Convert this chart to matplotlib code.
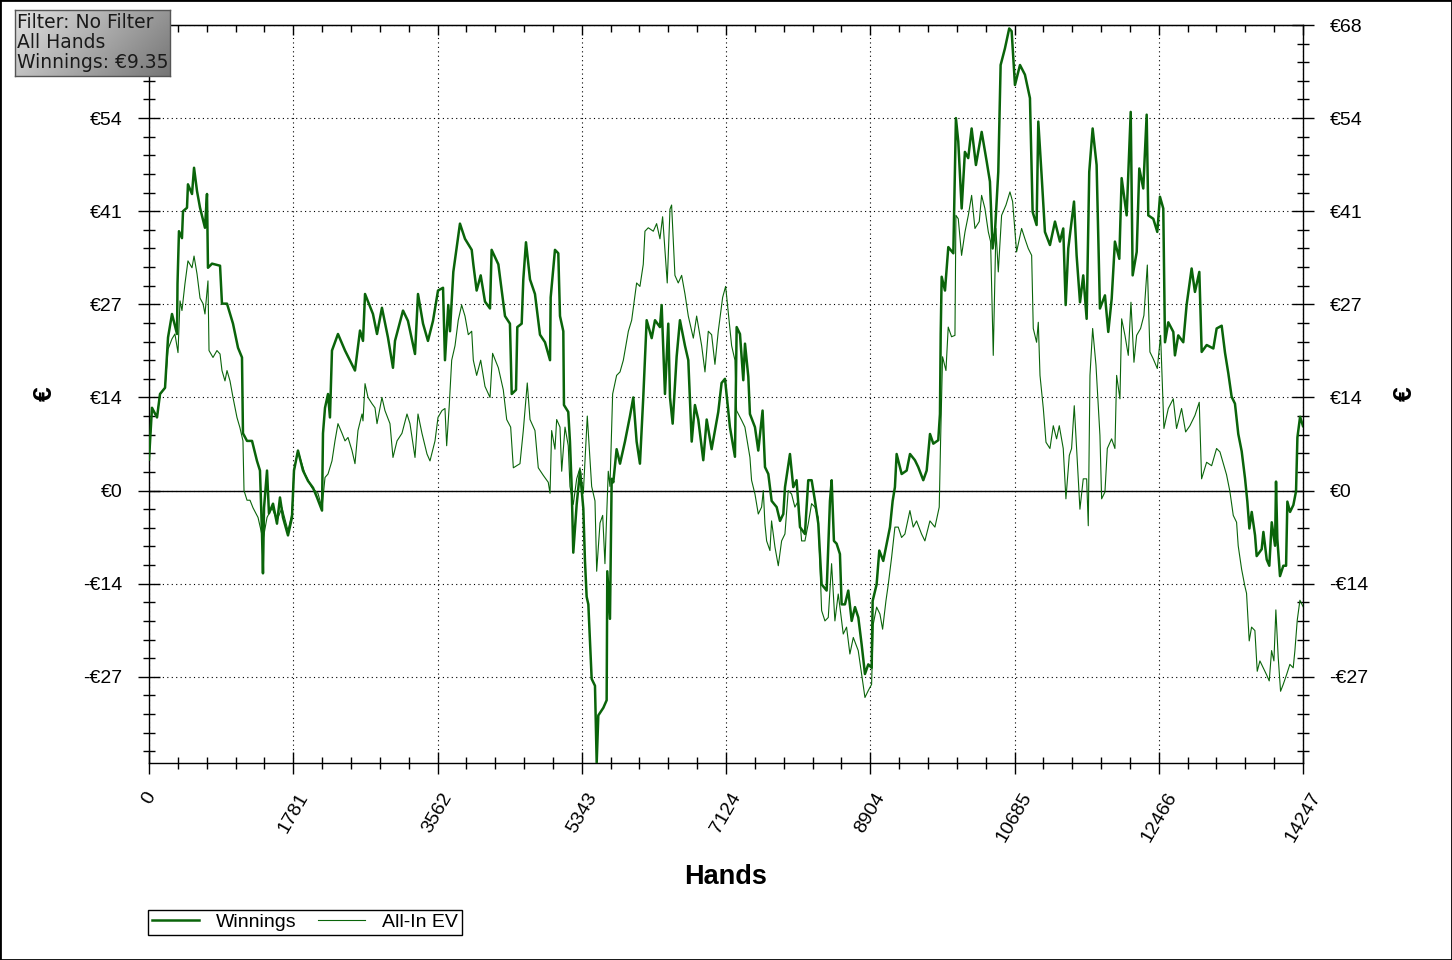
import numpy as np
import matplotlib
matplotlib.use("Agg")
import matplotlib.pyplot as plt
from matplotlib.ticker import MultipleLocator, FixedLocator
from matplotlib.patches import Rectangle
from matplotlib.lines import Line2D

plt.rcParams['font.family'] = ['Liberation Sans', 'DejaVu Sans']

# ---- data ----
n_hands = 14247
x_tick_labels = ['0', '1781', '3562', '5343', '7124', '8904', '10685', '12466', '14247']
y_tick_values = [-27, -13.5, 0, 13.5, 27, 40.5, 54, 67.5]
y_tick_labels = ['-€27', '-€14', '€0', '€14', '€27', '€41', '€54', '€68']
info_lines = ['Filter: No Filter', 'All Hands', 'Winnings: €9.35']

win_hands = [0, 37, 99, 136, 198, 235, 284, 346, 352, 370, 407, 420, 469, 481, 531, 556, 593, 630, 691, 716,
             728, 778, 877, 901, 963, 1037, 1099, 1148, 1160, 1210, 1272, 1333, 1370, 1395, 1407, 1420, 1457,
             1481, 1531, 1580, 1617, 1654, 1716, 1765, 1790, 1839, 1901, 1963, 2025, 2074, 2136, 2148, 2173,
             2210, 2234, 2259, 2333, 2420, 2543, 2605, 2642, 2667, 2765, 2815, 2876, 2950, 3012, 3037, 3136,
             3197, 3284, 3321, 3383, 3444, 3506, 3568, 3630,
             3654, 3695, 3716, 3757, 3839, 3901, 3984, 4004, 4045, 4095, 4148, 4210, 4230, 4313, 4395, 4456,
             4478, 4531, 4547, 4601, 4621, 4654, 4704, 4765, 4827, 4889, 4951, 4959, 5012, 5053, 5074, 5115,
             5123, 5176, 5197, 5218, 5238, 5280, 5321, 5362, 5382, 5403, 5424, 5465, 5506, 5527, 5547, 5609,
             5650, 5658, 5691, 5712, 5732, 5773, 5815, 5876, 5938, 5979, 6020, 6061, 6102, 6144, 6206, 6247,
             6308, 6329, 6370, 6411, 6432, 6465, 6514, 6555, 6617, 6658, 6700, 6740, 6781, 6843, 6885, 6946,
             6987, 7028, 7069, 7111, 7172, 7234, 7255, 7296,
             7337, 7358, 7399, 7419, 7481, 7522, 7575, 7605, 7646, 7687, 7749, 7790, 7831, 7852, 7913, 7954,
             7995, 8037, 8098, 8139, 8181, 8222, 8263, 8304, 8366, 8407, 8428, 8456, 8489, 8530, 8551, 8592,
             8633, 8675, 8716, 8757, 8798, 8839, 8880, 8922, 8934, 8983, 9016, 9065, 9107, 9148, 9181, 9209,
             9230, 9292, 9354, 9395, 9456, 9497, 9559, 9601, 9642, 9683, 9744, 9765, 9774, 9786, 9827, 9868,
             9930,
             9962, 9991, 10033, 10073, 10114, 10156, 10209, 10280, 10342, 10382, 10415, 10444, 10485, 10514,
             10567, 10620, 10650, 10691, 10753, 10814, 10876, 10909, 10958, 10979, 11020, 11061, 11123, 11185,
             11246, 11287, 11317, 11349, 11420, 11452, 11494, 11534, 11576, 11608, 11650, 11699, 11740, 11802,
             11843, 11885, 11925, 11979, 12008, 12070, 12120, 12144, 12194, 12226, 12275, 12317, 12337, 12399,
             12448, 12481, 12522, 12543, 12584, 12646, 12666, 12707, 12769, 12810, 12872, 12913, 12967, 12996,
             13058, 13140, 13181,
             13243, 13284, 13325, 13366, 13407, 13448, 13490, 13531, 13560, 13585, 13614, 13655, 13675, 13737,
             13758, 13799, 13831, 13861, 13902, 13914, 13930, 13963, 14004, 14038, 14054, 14087, 14128, 14161,
             14178, 14211, 14247]
win_eur = [4.5, 12.0, 10.6, 14.0, 14.9, 22.2, 25.6, 22.7, 30.0, 37.6, 36.6, 40.5, 41.0, 44.4, 43.0, 46.8, 43.4,
           41.0, 38.1, 43.0, 32.3, 32.9, 32.6, 27.1, 27.1, 24.2, 20.7, 19.3, 8.3, 7.2, 7.2, 4.3, 2.9, -6.2, -12.0,
           -2.5, 2.9, -3.3, -1.9, -4.8, -1.0, -3.9, -6.5, -3.9, 2.9, 5.8, 2.9, 1.4, 0.4, -1.0, -2.9, 8.3, 12.0,
           14.0, 10.6, 20.3, 22.7, 20.3, 17.4, 23.2, 21.7, 28.5, 25.6, 22.7, 26.5, 22.2, 17.8, 21.7, 26.1,
           24.6, 19.8, 28.5, 24.2, 21.7, 24.6, 29.0, 29.4,
           18.9, 26.9, 23.1, 31.7, 38.7, 36.5, 34.9, 32.8, 29.0, 31.2, 27.4, 26.4, 34.9, 32.8, 25.3, 24.2,
           14.0, 14.6, 23.7, 24.2, 30.6, 36.0, 30.6, 28.5, 22.6, 21.5, 18.9, 28.0, 34.9, 34.4, 25.3, 23.1,
           12.4, 11.4, 7.1, 0.6, -9.0, -2.0, 2.8, -2.6, -10.1, -15.4, -16.5, -27.3, -28.3, -39.5, -32.6, -31.5,
           -30.4, -11.7, -18.6, 1.7, 1.2, 6.0, 3.9, 7.1, 10.8, 13.5, 7.1, 3.9, 13.5, 24.7, 22.1, 24.7,
           23.7, 26.9, 14.0, 24.2, 13.5, 9.7, 19.4, 24.7, 21.0, 18.9, 7.1, 12.4, 10.3, 4.4, 10.3, 6.0,
           8.7, 11.4, 15.6, 16.2, 9.2, 4.9, 23.7, 22.7,
           16.0, 21.3, 16.5, 11.1, 9.2, 5.8, 11.6, 3.4, 2.4, -1.5, -2.4, -4.4, -3.4, 0.5, 5.3, 0.5,
           1.5, -5.3, -6.3, 1.5, 1.5, -1.5, -4.8, -13.6, -14.5, -1.5, 1.5, -7.3, -7.7, -9.2, -16.5, -16.5,
           -14.5, -18.9, -16.9, -18.4, -22.3, -26.6, -25.2, -25.7, -16.0, -13.6, -8.7, -10.2, -7.7, -5.3, -1.5, 0.5,
           5.3, 2.4, 2.9, 5.3, 4.4, 3.4, 1.5, 2.9, 8.2, 6.8, 7.3, 11.1, 22.7, 31.0, 29.0, 35.3,
           34.4,
           54.0, 50.6, 40.9, 49.1, 48.2, 52.5, 47.2, 52.0, 47.7, 44.8, 35.1, 37.5, 46.2, 61.7,
           64.1, 67.0, 66.6, 58.8, 61.7, 60.3, 56.9, 40.4, 38.5, 53.5, 45.7, 37.5, 35.6, 39.0,
           36.1, 38.0, 26.9, 35.1, 41.9, 34.1, 27.3, 31.2, 24.9, 46.2, 52.5, 47.2, 26.4, 28.3,
           23.0, 27.8, 36.1, 33.6, 45.3, 39.9, 54.9, 31.2, 34.6, 46.7, 43.8, 54.5, 39.9, 39.4,
           37.5, 42.6, 40.9, 21.5, 24.4, 23.0, 19.6, 22.5, 21.5, 26.9, 32.2, 28.8, 31.7, 20.1,
           21.1, 20.6, 23.5,
           23.9, 20.0, 17.0, 13.6, 12.6, 8.2, 5.7, 1.8, -1.6, -5.5, -3.1, -6.5, -9.5, -8.5,
           -6.0, -10.0, -10.9, -4.6, -8.0, 1.3, -7.0, -12.4, -10.9, -10.9, -1.6, -3.1, -2.1, -0.1,
           7.7, 10.7, 9.35]

ev_hands = [0, 37, 99, 136, 198, 235, 284, 320, 358, 383, 407, 444, 481, 531, 556, 593, 630, 667, 691, 728,
            741, 790, 839, 877, 901, 938, 963, 1000, 1037, 1086, 1123, 1160, 1173, 1210, 1247, 1284, 1346,
            1383, 1407, 1457, 1518, 1580, 1642, 1716, 1765, 1790, 1839, 1926, 2012, 2086, 2136, 2173, 2210,
            2259, 2296, 2333, 2383, 2420, 2457, 2506, 2543, 2580, 2630, 2642, 2667, 2704, 2753, 2790, 2815,
            2876, 2913, 2975, 3012, 3062, 3123, 3185, 3222, 3284, 3321, 3370, 3432, 3469, 3531, 3568, 3617,
            3654, 3675, 3707, 3737, 3778, 3818, 3860, 3901, 3942, 3984, 4004, 4045, 4095, 4148, 4210, 4242,
            4313, 4374, 4416, 4465, 4498, 4580, 4621, 4670, 4704, 4765, 4806, 4868, 4929, 4951, 4971, 5012,
            5033, 5074, 5095, 5136, 5176, 5197, 5238, 5280, 5321, 5362, 5411, 5465, 5506, 5527, 5568, 5601,
            5629, 5670, 5691, 5724, 5773, 5815, 5856, 5918, 5959, 6020, 6061, 6102, 6123, 6164, 6226, 6267,
            6308, 6341, 6398, 6432, 6452, 6493, 6534, 6576, 6617, 6658, 6720, 6761, 6823, 6864, 6905, 6946,
            6987, 7028, 7082, 7119, 7152, 7193, 7234,
            7254, 7316, 7357, 7419, 7439, 7481, 7522, 7563, 7584, 7604, 7625, 7666, 7686, 7728, 7769, 7810,
            7851, 7892, 7933, 7974, 8016, 8057, 8098, 8139, 8180, 8221, 8262, 8304, 8345, 8386, 8427, 8468,
            8509, 8530, 8571, 8612, 8653, 8695, 8756, 8797, 8839, 8880, 8921, 8941, 8983, 9024, 9057, 9098,
            9127, 9168, 9209, 9250, 9291, 9332, 9394, 9435, 9476, 9538, 9579, 9641, 9703, 9756, 9773, 9797,
            9839, 9867, 9908,
            9950, 9962, 9991, 10032, 10074, 10115, 10156, 10197, 10250, 10279, 10320, 10362, 10390, 10423,
            10456, 10485, 10526, 10580, 10629, 10662, 10711, 10773, 10814, 10855, 10897, 10917, 10958, 10979,
            11000, 11041, 11074, 11123, 11164, 11205, 11238, 11287, 11320, 11362, 11390, 11423, 11452, 11493,
            11534, 11576, 11596, 11617, 11650, 11691, 11740, 11761, 11802, 11831, 11884, 11925, 11946, 11987,
            12008, 12049, 12090, 12123, 12160, 12193, 12242, 12283, 12325, 12357, 12398, 12448, 12489, 12530,
            12584, 12645, 12686, 12748, 12798, 12851, 12913, 12966, 12995, 13057, 13119, 13180, 13222,
            13303, 13344, 13386, 13427, 13447, 13489, 13530, 13550, 13583, 13612, 13653, 13682, 13715, 13756,
            13797, 13830, 13859, 13888, 13912, 13941, 13970, 14003, 14044, 14085, 14126, 14147, 14176, 14209,
            14247]
ev_eur = [4.5, 12.0, 10.6, 14.0, 14.9, 20.5, 22.0, 22.7, 20.0, 27.5, 26.1, 30.0, 33.3, 32.3, 34.0, 31.4, 27.9,
          27.1, 25.6, 30.4, 20.3, 19.3, 20.3, 19.8, 17.4, 15.9, 17.4, 15.9, 13.5, 10.6, 9.1, 7.2, 0.0, -1.4,
          -1.4, -2.5, -3.9, -5.8, -7.2, -3.9, -2.5, -4.3, -2.5, -5.8, -3.3, 2.9, 5.8, 2.4, 0.4, -0.4, -2.5,
          1.9, 2.4, 4.3, 7.2, 9.7, 8.3, 7.2, 7.7, 5.8, 3.9, 8.7, 11.1, 10.1, 15.5, 13.5, 12.6, 12.0, 9.7,
          13.5, 11.6, 9.7, 4.8, 7.2, 8.3, 11.1, 9.7, 4.8, 11.1, 8.3, 5.3, 4.3, 7.2, 10.6, 11.6,
          11.9, 6.5, 12.4, 18.9, 21.0, 24.7, 26.9, 25.3, 22.6, 23.1, 18.9, 16.7, 18.9, 15.1, 13.5, 19.9,
          17.8, 14.6, 10.3, 9.2, 3.3, 3.9, 8.7, 15.6, 10.3, 8.7, 3.3, 2.2, 1.2, -0.4, 8.7, 6.0,
          10.3, 9.2, 2.8, 9.2, 6.5, 0.6, -2.0, 1.7, 3.3, -0.4, 10.8, 0.6, -1.5, -11.7, -4.7, -3.6,
          -10.6, 2.8, 0.6, 14.0, 16.7, 17.2, 18.9, 23.1, 24.7, 30.1, 29.6, 32.8, 37.6, 38.1, 37.6, 38.7,
          36.5, 39.7, 30.1, 40.8, 41.4, 31.2, 30.1, 31.2, 28.5, 25.3, 22.1, 25.3, 21.0, 17.2, 23.1, 22.6,
          18.3, 23.1, 28.0, 29.6, 25.8, 21.0, 18.9,
          11.6, 10.2, 9.2, 4.8, 1.5, -0.5, -3.4, -2.4, 0.0, -4.8, -7.3, -8.7, -4.4, -8.2, -10.9, -7.3,
          -6.3, 0.0, -0.5, -2.4, -1.5, -7.3, -7.3, -4.8, -1.9, -2.4, -3.9, -17.4, -18.9, -18.4, -10.6, -18.9,
          -15.0, -16.9, -20.8, -19.8, -23.7, -21.3, -23.2, -26.6, -30.0, -29.0, -28.1, -19.4, -16.9, -17.9, -20.1, -16.0,
          -13.6, -9.7, -5.3, -5.3, -6.8, -6.3, -2.9, -5.3, -4.4, -6.3, -7.3, -4.4, -5.3, -2.4, 7.3, 19.4,
          17.4, 23.7, 22.3,
          22.5, 39.9, 39.4, 34.1, 37.5, 39.9, 42.8, 38.0, 39.0, 42.8, 40.9, 37.5, 36.1, 19.6,
          38.0, 31.7, 39.9, 41.4, 43.3, 41.9, 34.6, 38.0, 36.5, 35.1, 34.1, 23.5, 21.5, 24.4,
          16.7, 11.9, 7.0, 6.1, 9.4, 7.5, 9.4, 6.1, -1.2, 5.1, 6.1, 12.3, 6.1, -2.7,
          1.7, 1.7, -5.1, 16.7, 23.5, 18.2, 8.0, -1.2, -0.2, 6.1, 7.5, 6.1, 16.7, 13.3,
          24.9, 22.5, 19.6, 27.3, 18.6, 22.5, 23.5, 25.4, 32.7, 20.1, 19.1, 17.7, 22.5, 9.0,
          11.9, 13.3, 9.0, 11.9, 8.5, 9.4, 10.9, 12.8, 1.7, 4.1, 3.6, 6.1, 5.6,
          2.3, -0.1, -3.6, -4.6, -8.0, -11.4, -13.9, -14.9, -21.8, -19.8, -20.3, -26.2, -24.7, -25.7,
          -26.7, -27.6, -23.2, -24.7, -17.3, -24.2, -29.1, -28.1, -26.7, -25.2, -25.7, -23.2, -18.8, -15.9,
          -16.8]

W, H = 1452, 960
green = '#0a640a'

fig = plt.figure(figsize=(W / 100, H / 100), dpi=100)
ax = fig.add_axes([149 / W, 1 - 763 / H, 1154 / W, 738 / H])

ax.plot(win_hands, win_eur, color=green, lw=1.8, zorder=3)
ax.plot(ev_hands, ev_eur, color=green, lw=0.8, zorder=3)
ax.axhline(0, color='black', lw=1, zorder=2)

ax.set_xlim(0, n_hands)
ax.set_ylim(-39.5, 67.5)

x_ticks = [n_hands * k / 8 for k in range(len(x_tick_labels))]
ax.set_xticks(x_ticks, x_tick_labels, rotation=60)
ax.xaxis.set_minor_locator(MultipleLocator(n_hands / 40))
ax.set_yticks(y_tick_values, y_tick_labels)
ax.yaxis.set_minor_locator(MultipleLocator(2.7))

ax.tick_params(axis='both', which='major', direction='inout', length=16, width=1, labelsize=14)
ax.tick_params(axis='both', which='minor', direction='inout', length=9, width=1)
ax.tick_params(axis='y', which='both', left=True, right=True, labelleft=True, labelright=True)
ax.tick_params(axis='y', which='major', pad=11)
ax.tick_params(axis='x', which='major', pad=11)
ax.tick_params(axis='x', which='both', top=False)

# the info box hides the top-left label
ax.yaxis.get_major_ticks()[-1].label1.set_visible(False)

# top axis: short inward ticks only
sec = ax.secondary_xaxis('top')
sec.xaxis.set_major_locator(FixedLocator(x_ticks))
sec.xaxis.set_minor_locator(MultipleLocator(n_hands / 40))
sec.tick_params(which='major', direction='in', length=7, width=1, labeltop=False)
sec.tick_params(which='minor', direction='in', length=5, width=1)

ax.grid(which='major', color='black', linestyle=(0, (1, 3)), linewidth=0.8)
ax.set_axisbelow(True)
for s in ax.spines.values():
    s.set_linewidth(1)

ax.text(0.5, (763 - 877) / 738, 'Hands', transform=ax.transAxes, ha='center', va='center',
        fontsize=19.5, fontweight='bold')
ax.text((45 - 149) / 1154, 0.5, '€', transform=ax.transAxes, ha='center', va='center',
        rotation=90, fontsize=19, fontweight='bold')
ax.text((1405 - 149) / 1154, 0.5, '€', transform=ax.transAxes, ha='center', va='center',
        rotation=90, fontsize=19, fontweight='bold')

# legend below the plot
handles = [Line2D([], [], color=green, lw=1.8), Line2D([], [], color=green, lw=0.8)]
leg = fig.legend(handles, ['Winnings', 'All-In EV'], loc='lower left',
                 bbox_to_anchor=(148 / W, 1 - 935 / H), ncol=2, frameon=True, fancybox=False,
                 edgecolor='black', fontsize=14, handlelength=2.4, columnspacing=1.1,
                 handletextpad=0.9, borderpad=0.2, borderaxespad=0)
leg.get_frame().set_linewidth(1)
leg.get_frame().set_alpha(1)

# info box with grey gradient
bax = fig.add_axes([15 / W, 1 - 76 / H, 155 / W, 66 / H])
gx = np.linspace(0, 1, 200)
gy = np.linspace(0, 1, 60)
gxx, gyy = np.meshgrid(gx, gy)
grad = 0.88 - 0.30 * gxx - 0.12 * gyy
bax.imshow(grad, cmap='gray', vmin=0, vmax=1, aspect='auto', extent=[0, 1, 0, 1], origin='upper')
bax.set_xticks([])
bax.set_yticks([])
for s in bax.spines.values():
    s.set_color('#555555')
    s.set_linewidth(1)
for i, line in enumerate(info_lines):
    fig.text(17 / W, 1 - (22 + 20.5 * i) / H, line, ha='left', va='center', fontsize=13.5,
             family='DejaVu Sans', color='#1a1a1a')

fig.add_artist(Rectangle((0, 0), 1, 1, transform=fig.transFigure, fill=False,
                         edgecolor='black', lw=2))

fig.savefig('out.png', dpi=100)
